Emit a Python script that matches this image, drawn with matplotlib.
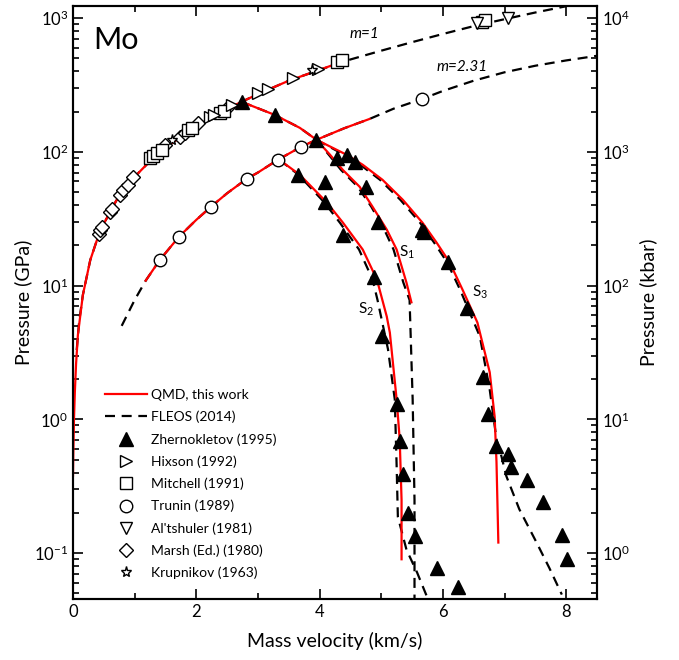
import numpy as np
import matplotlib
matplotlib.use('Agg')
import matplotlib.pyplot as plt
from matplotlib.ticker import LogLocator, NullFormatter

plt.rcParams['font.family'] = ['Lato', 'DejaVu Sans']
plt.rcParams['mathtext.fontset'] = 'custom'
plt.rcParams['mathtext.rm'] = 'Lato'
plt.rcParams['mathtext.it'] = 'Lato:italic'

# ---------------- data (km/s, GPa) ----------------
# principal Hugoniot, m = 1
h1_dash_u = [0.06, 0.1, 0.16, 0.28, 0.39, 0.5, 0.7, 1.0, 1.3, 1.6, 2.0, 2.5, 3.0,
             3.5, 4.0, 4.5, 5.0, 5.5, 6.0, 6.5, 7.0, 7.5, 8.0]
h1_dash_p = [3.3, 5.4, 8.5, 15.5, 22, 29, 43, 65, 90, 116, 155, 210, 270,
             340, 410, 490, 570, 660, 760, 870, 980, 1100, 1225]
h1_qmd_u = [0.0, 0.005, 0.016, 0.03, 0.05, 0.08, 0.16, 0.28, 0.39, 0.5, 0.7, 1.0,
            1.3, 1.6, 2.0, 2.5, 3.0, 3.5, 4.0, 4.3]
h1_qmd_p = [0.38, 0.55, 1.0, 1.6, 2.6, 4.3, 8.5, 15.5, 22, 29, 43, 65,
            90, 116, 155, 210, 270, 340, 410, 460]

# porous Hugoniot, m = 2.31
h2_dash_u = [0.79, 1.0, 1.18, 1.41, 1.72, 2.0, 2.24, 2.5, 2.82, 3.0, 3.32, 3.7, 3.95,
             4.4, 4.81, 5.2, 5.66, 6.0, 6.5, 7.0, 7.5, 8.0, 8.5]
h2_dash_p = [5.0, 7.8, 10.9, 15.6, 23.2, 31, 38.9, 49, 62.9, 70, 87, 109, 123,
             150, 176, 210, 248, 285, 340, 393, 440, 482, 522]
h2_qmd_u = [1.18, 1.41, 1.72, 2.0, 2.24, 2.5, 2.82, 3.0, 3.32, 3.7, 3.95, 4.4, 4.81]
h2_qmd_p = [10.9, 15.6, 23.2, 31, 38.9, 49, 62.9, 70, 87, 109, 123, 150, 176]

# release isentropes
s1_qmd_u = [2.74, 3.27, 3.68, 3.95, 4.17, 4.38, 4.65, 4.86, 5.09, 5.25, 5.41, 5.49]
s1_qmd_p = [236, 189, 151, 123, 95, 73, 54.8, 38.8, 26.2, 18.6, 10.5, 7.5]
s1_dash_u = [2.74, 3.27, 3.68, 3.95, 4.15, 4.35, 4.62, 4.84, 5.05, 5.2, 5.36, 5.46,
             5.51, 5.54, 5.54]
s1_dash_p = [236, 189, 151, 123, 95, 73, 54.8, 38.8, 26.2, 18.6, 10.5, 7.8,
             1.41, 0.25, 0.045]

s2_qmd_u = [3.35, 3.68, 4.12, 4.38, 4.70, 4.93, 5.09, 5.14, 5.25, 5.30, 5.33, 5.33]
s2_qmd_p = [87, 67.3, 41.7, 29.5, 18.6, 11.1, 5.87, 4.45, 1.41, 0.71, 0.25, 0.09]
s2_dash_u = [3.35, 3.66, 4.08, 4.33, 4.64, 4.86, 4.94, 5.11, 5.22, 5.25, 5.27, 5.41,
             5.58, 5.74]
s2_dash_p = [87, 67.3, 41.7, 29.5, 18.6, 11.1, 7.8, 3.34, 1.41, 0.45, 0.187, 0.106,
             0.072, 0.0475]

s3_qmd_u = [3.95, 4.44, 4.70, 5.02, 5.35, 5.67, 5.90, 6.11, 6.32, 6.56, 6.76, 6.84,
            6.87, 6.90]
s3_qmd_p = [123, 95, 80, 61.8, 43.8, 29.5, 20.9, 14.9, 9.3, 5.3, 2.25, 1.05,
            0.48, 0.12]
s3_dash_u = [3.95, 4.40, 4.66, 4.98, 5.31, 5.63, 5.86, 6.07, 6.28, 6.60, 6.76, 6.87,
             6.95, 7.03, 7.24, 7.52, 7.73, 7.93]
s3_dash_p = [123, 95, 80, 61.8, 43.8, 29.5, 20.9, 14.9, 9.3, 4.17, 1.67, 0.71,
             0.53, 0.376, 0.213, 0.12, 0.077, 0.049]

# experiments
zher_u = [2.74, 3.27, 3.95, 4.28, 4.44, 4.57, 4.76, 4.94, 5.66, 5.69, 6.08, 6.39,
          3.65, 4.08, 4.08, 4.38, 4.89, 5.01, 5.25, 5.30, 5.35, 5.43, 5.54, 5.90,
          6.24, 6.65, 6.73, 6.87, 7.05, 7.11, 7.36, 7.62, 7.93, 8.02]
zher_p = [236, 189, 123, 90, 95, 84, 54.8, 30.0, 26.2, 25, 14.9, 6.8,
          67.3, 59.7, 42.4, 24.0, 11.5, 4.17, 1.30, 0.69, 0.39, 0.20, 0.134, 0.077,
          0.056, 2.06, 1.09, 0.63, 0.55, 0.44, 0.35, 0.24, 0.137, 0.090]
hixson_u = [2.22, 2.29, 2.58, 3.00, 3.16, 3.57, 3.97]
hixson_p = [182, 189, 224, 276, 295, 357, 417]
mitchell_u = [1.25, 1.30, 1.36, 1.44, 1.86, 1.93, 2.38, 2.45, 4.28, 4.36, 6.63, 6.69]
mitchell_p = [90.2, 93.4, 98.3, 103, 146, 151, 195, 202, 470, 486, 933, 965]
trunin_u = [1.41, 1.72, 2.24, 2.82, 3.32, 3.70, 5.66]
trunin_p = [15.6, 23.2, 38.9, 62.9, 87.1, 109, 248]
altshuler_u = [6.56, 7.05]
altshuler_p = [917, 1000]
marsh_u = [0.42, 0.44, 0.47, 0.60, 0.63, 0.76, 0.81, 0.89, 0.97, 1.49, 1.73, 1.82,
           2.03, 2.51]
marsh_p = [24.5, 26.2, 27.6, 35.7, 37.5, 47.8, 52.0, 56.7, 65.1, 113, 129, 139,
           164, 217]
krup_u = [1.60, 3.87]
krup_p = [123, 408]

# ---------------- plot ----------------
fig = plt.figure(figsize=(6.79, 6.60), dpi=100)
ax = fig.add_axes([0.1075, 0.0924, 0.7717, 0.8985])

red = '#ff0000'
dash = (0, (4.5, 3))
lw = 1.6

for u, p in [(h1_dash_u, h1_dash_p), (h2_dash_u, h2_dash_p), (s1_dash_u, s1_dash_p),
             (s2_dash_u, s2_dash_p), (s3_dash_u, s3_dash_p)]:
    ax.plot(u, p, color='black', ls=dash, lw=lw, zorder=2)
for u, p in [(h1_qmd_u, h1_qmd_p), (h2_qmd_u, h2_qmd_p), (s1_qmd_u, s1_qmd_p),
             (s2_qmd_u, s2_qmd_p), (s3_qmd_u, s3_qmd_p)]:
    ax.plot(u, p, color=red, lw=lw, zorder=3)

mk = dict(ls='none', mfc='white', mec='black', mew=1.0, zorder=4)
ax.plot(marsh_u, marsh_p, marker='D', ms=7, **mk)
ax.plot(mitchell_u, mitchell_p, marker='s', ms=8, **mk)
ax.plot(hixson_u, hixson_p, marker='>', ms=9, **mk)
ax.plot(krup_u, krup_p, marker='*', ms=8, **mk)
ax.plot(trunin_u, trunin_p, marker='o', ms=9, **mk)
ax.plot(altshuler_u, altshuler_p, marker='v', ms=9, **mk)
ax.plot(zher_u, zher_p, ls='none', marker='^', ms=10, color='black', zorder=5)

# legend handles
handles = [
    ax.plot([], [], color=red, lw=lw, label='QMD, this work')[0],
    ax.plot([], [], color='black', ls=dash, lw=lw, label='FLEOS (2014)')[0],
    ax.plot([], [], ls='none', marker='^', ms=10, color='black', label='Zhernokletov (1995)')[0],
    ax.plot([], [], marker='>', ms=9, label='Hixson (1992)', **mk)[0],
    ax.plot([], [], marker='s', ms=8, label='Mitchell (1991)', **mk)[0],
    ax.plot([], [], marker='o', ms=9, label='Trunin (1989)', **mk)[0],
    ax.plot([], [], marker='v', ms=9, label="Al'tshuler (1981)", **mk)[0],
    ax.plot([], [], marker='D', ms=7, label='Marsh (Ed.) (1980)', **mk)[0],
    ax.plot([], [], marker='*', ms=8, label='Krupnikov (1963)', **mk)[0],
]
ax.legend(handles=handles, loc='upper left', bbox_to_anchor=(0.061, 0.354),
          frameon=False, fontsize=10, handlelength=3.0, handletextpad=0.3,
          labelspacing=0.7, borderpad=0, borderaxespad=0, numpoints=1)

ax.set_yscale('log')
ax.set_xlim(0, 8.5)
ax.set_ylim(0.0454, 1230)
ax.set_xticks([0, 2, 4, 6, 8])
ax.set_xticks([1, 3, 5, 7], minor=True)
ax.yaxis.set_major_locator(LogLocator(base=10, numticks=10))
ax.yaxis.set_minor_locator(LogLocator(base=10, subs=np.arange(2, 10), numticks=20))
ax.yaxis.set_minor_formatter(NullFormatter())
ax.tick_params(which='both', direction='in', top=True, width=1.2, labelsize=12)
ax.tick_params(which='major', length=7)
ax.tick_params(which='minor', length=4)
for s in ax.spines.values():
    s.set_linewidth(1.5)

ax.set_xlabel('Mass velocity (km/s)', fontsize=14, labelpad=9)
ax.set_ylabel('Pressure (GPa)', fontsize=14, labelpad=1)

ax2 = ax.twinx()
ax2.set_yscale('log')
ax2.set_ylim(0.454, 12300)
ax2.yaxis.set_major_locator(LogLocator(base=10, numticks=10))
ax2.yaxis.set_minor_locator(LogLocator(base=10, subs=np.arange(2, 10), numticks=20))
ax2.yaxis.set_minor_formatter(NullFormatter())
ax2.tick_params(which='both', direction='in', width=1.2, labelsize=12)
ax2.tick_params(which='major', length=7)
ax2.tick_params(which='minor', length=4)
ax2.set_ylabel('Pressure (kbar)', fontsize=14, labelpad=7)
for s in ax2.spines.values():
    s.set_linewidth(1.5)

# annotations
ax.text(0.038, 0.943, 'Mo', transform=ax.transAxes, fontsize=22, va='center', ha='left')
ax.text(4.73, 760, 'm=1', fontsize=11, style='italic', ha='center', va='center')
ax.text(6.32, 431, 'm=2.31', fontsize=11, style='italic', ha='center', va='center')
ax.text(5.41, 17.6, r'S$_1$', fontsize=11, ha='center', va='center')
ax.text(4.76, 6.6, r'S$_2$', fontsize=11, ha='center', va='center')
ax.text(6.60, 8.9, r'S$_3$', fontsize=11, ha='center', va='center')

fig.savefig('out.png', dpi=100)
